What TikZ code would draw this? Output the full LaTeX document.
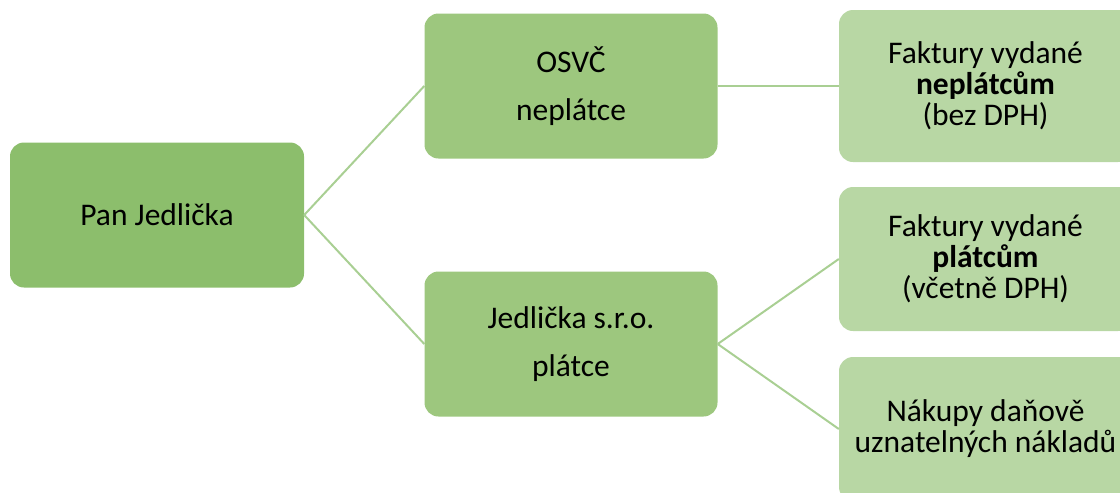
\documentclass[tikz,border=0pt]{standalone}
\usepackage{fontspec}
\setmainfont{Carlito}
\definecolor{rootfill}{HTML}{8CBE6C}
\definecolor{midfill}{HTML}{9DC77E}
\definecolor{leaffill}{HTML}{B8D7A4}
\definecolor{linkcol}{HTML}{A9CF93}
\tikzset{
  box/.style={rectangle, rounded corners=14pt, draw=none, align=center,
    minimum width=293pt, minimum height=145pt, inner sep=0pt,
    font=\fontsize{31.5}{31}\selectfont},
  rootbox/.style={box, fill=rootfill, minimum width=294pt},
  midbox/.style={box, fill=midfill, font=\fontsize{31.5}{48}\selectfont},
  leafbox/.style={box, fill=leaffill, minimum height=144pt},
  link/.style={draw=linkcol, line width=2pt}
}
\begin{document}
\begin{tikzpicture}[x=1pt,y=-1pt]
  \useasboundingbox (0,0) rectangle (1120,493);
  \clip (0,0) rectangle (1120,493);
  \node[rootbox] (pan) at (157,215) {Pan Jedlička};
  \node[midbox] (osvc) at (571,86) {OSVČ\\neplátce};
  \node[midbox] (sro) at (571,344) {Jedlička s.r.o.\\plátce};
  \node[leafbox, minimum height=152pt] (fneplat) at (985.5,86)
    {Faktury vydané\\\textbf{neplátcům}\\(bez DPH)};
  \node[leafbox] (fplat) at (985.5,259)
    {Faktury vydané\\\textbf{plátcům}\\(včetně DPH)};
  \node[leafbox] (nakupy) at (985.5,429)
    {Nákupy daňově\\uznatelných nákladů};
  \draw[link] (pan.east) -- (osvc.west);
  \draw[link] (pan.east) -- (sro.west);
  \draw[link] (osvc.east) -- (fneplat.west);
  \draw[link] (sro.east) -- (fplat.west);
  \draw[link] (sro.east) -- (nakupy.west);
\end{tikzpicture}
\end{document}
